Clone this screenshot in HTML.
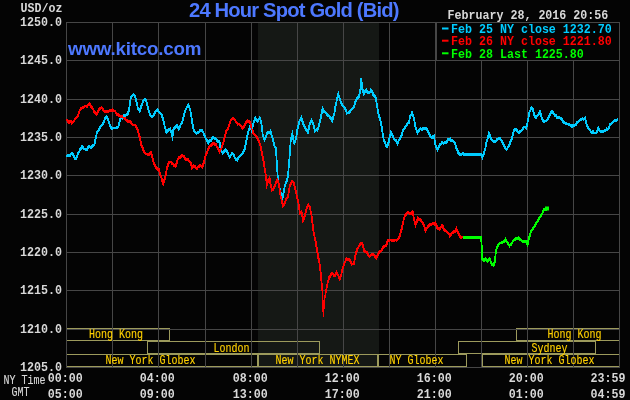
<!DOCTYPE html>
<html lang="en"><head><meta charset="utf-8"><title>24 Hour Spot Gold (Bid)</title>
<style>html,body{margin:0;padding:0;background:#040404;overflow:hidden}svg{display:block;will-change:transform}.m{font-family:"Liberation Mono",monospace;font-size:12.6px}.b{font-weight:bold}.n{stroke-width:0.15px;paint-order:stroke}.t{font-family:"Liberation Sans",sans-serif;font-weight:bold;fill:#4d78ff}</style></head><body>
<svg width="630" height="400" viewBox="0 0 630 400">
<rect x="0" y="0" width="630" height="400" fill="#040404"/>
<rect x="258" y="22" width="121" height="345" fill="#151815"/>
<g fill="none" stroke="#9c9a5c" stroke-width="1" shape-rendering="crispEdges">
<rect x="66.5" y="328.5" width="103" height="12"/>
<rect x="516.5" y="328.5" width="103" height="12"/>
<rect x="147.5" y="341.5" width="172" height="12"/>
<rect x="458.5" y="341.5" width="137" height="12"/>
<rect x="66.5" y="354.5" width="191" height="12"/>
<rect x="258.5" y="354.5" width="119" height="12"/>
<rect x="378.5" y="354.5" width="88" height="12"/>
<rect x="482.5" y="354.5" width="137" height="12"/>
</g>
<g fill="#464646" shape-rendering="crispEdges">
<rect x="66" y="22" width="1" height="346"/>
<rect x="112" y="22" width="1" height="346"/>
<rect x="158" y="22" width="1" height="346"/>
<rect x="205" y="22" width="1" height="346"/>
<rect x="251" y="22" width="1" height="346"/>
<rect x="297" y="22" width="1" height="346"/>
<rect x="343" y="22" width="1" height="346"/>
<rect x="389" y="22" width="1" height="346"/>
<rect x="435" y="22" width="1" height="346"/>
<rect x="481" y="22" width="1" height="346"/>
<rect x="527" y="22" width="1" height="346"/>
<rect x="573" y="22" width="1" height="346"/>
<rect x="619" y="22" width="1" height="346"/>
<rect x="66" y="22" width="554" height="1"/>
<rect x="66" y="60" width="554" height="1"/>
<rect x="66" y="99" width="554" height="1"/>
<rect x="66" y="137" width="554" height="1"/>
<rect x="66" y="175" width="554" height="1"/>
<rect x="66" y="214" width="554" height="1"/>
<rect x="66" y="252" width="554" height="1"/>
<rect x="66" y="290" width="554" height="1"/>
<rect x="66" y="329" width="554" height="1"/>
<rect x="66" y="367" width="554" height="1"/>
</g>
<rect x="436.5" y="22.5" width="183" height="38" fill="#040404" stroke="#464646" stroke-width="1" shape-rendering="crispEdges"/>
<g fill="none" stroke-width="1.7" stroke-linejoin="miter" stroke-miterlimit="6" stroke-linecap="butt" shape-rendering="crispEdges" transform="translate(0,-0.5)">
<polyline stroke="#00ccff" points="66.6,156.3 67.8,155.0 69.0,155.8 70.0,155.5 71.0,154.0 72.4,153.2 73.7,155.7 75.0,158.6 76.0,158.5 77.0,156.7 78.0,153.4 79.0,152.3 80.0,149.3 81.0,148.8 82.0,146.4 83.0,147.5 84.0,149.0 85.0,148.8 86.0,149.8 87.0,149.8 88.0,147.7 89.0,146.6 90.0,147.0 91.0,147.6 92.0,146.3 93.2,145.2 94.4,144.9 95.7,138.2 97.0,132.3 98.0,131.2 99.0,129.8 100.0,127.7 101.0,126.2 102.0,124.8 103.0,123.9 104.1,121.0 105.3,117.7 106.4,116.6 108.0,119.5 109.0,122.9 110.0,125.3 111.0,127.7 112.1,129.0 113.1,127.8 114.1,128.1 115.2,128.2 116.2,127.8 117.2,128.0 118.2,126.7 119.3,123.2 120.7,117.5 122.4,118.1 123.7,115.4 124.8,115.7 125.8,115.4 127.6,114.3 129.0,110.3 130.1,102.3 130.9,97.4 132.3,95.5 133.6,94.5 135.0,96.3 136.4,101.7 137.8,107.7 139.6,111.2 140.9,107.2 142.7,102.3 143.6,100.7 144.6,99.6 146.0,99.9 147.1,104.4 148.5,109.9 150.1,114.5 151.5,117.0 152.4,116.6 153.3,115.9 154.4,114.1 155.4,112.1 156.6,110.3 157.8,109.8 158.8,112.0 159.8,113.0 160.9,113.9 162.0,115.8 163.3,120.0 164.7,126.4 166.4,132.2 167.4,131.1 168.4,130.1 170.1,128.8 171.4,132.6 172.5,137.2 173.5,128.6 174.4,128.3 175.3,127.3 177.1,125.6 178.7,128.8 179.8,126.8 180.8,124.2 182.2,122.7 183.5,117.5 184.9,111.1 186.3,108.5 188.1,104.8 189.2,107.0 190.4,110.4 192.0,121.2 192.9,125.9 193.9,130.6 195.1,132.0 196.3,133.3 197.6,132.9 198.9,132.1 199.9,130.4 200.9,129.8 202.2,130.8 203.5,132.9 204.7,136.2 205.9,138.8 207.1,140.8 208.3,142.8 209.6,140.7 210.9,140.5 212.5,137.5 213.7,137.7 214.9,138.6 216.2,139.3 217.5,141.8 218.5,141.8 219.5,141.8 220.8,149.5 221.8,151.7 222.8,153.4 224.1,151.2 225.4,149.9 226.6,151.0 227.8,152.7 228.8,155.6 229.8,157.4 231.0,155.1 232.2,153.3 233.5,154.8 234.8,157.7 236.1,159.4 237.4,160.5 238.6,157.3 239.8,155.9 241.0,155.1 242.2,153.9 243.4,151.6 244.7,149.3 245.7,143.9 246.7,139.5 247.7,134.2 248.7,130.1 250.1,126.5 251.7,130.3 253.3,123.7 254.3,121.1 255.3,117.9 256.5,120.2 257.7,121.3 258.7,119.7 259.7,117.9 261.3,122.5 262.7,134.8 263.7,137.5 264.7,139.5 265.7,137.6 266.7,134.1 267.6,132.8 268.6,132.8 269.6,132.6 270.6,131.0 271.6,135.2 272.6,137.8 273.6,142.7 274.6,146.5 276.0,148.7 276.9,164.8 277.9,178.9 278.9,185.5 279.9,189.2 281.1,194.5 282.3,199.3 283.9,190.6 284.9,185.6 285.9,182.7 286.9,180.4 287.9,177.0 288.9,164.6 289.9,152.9 290.6,141.4 292.3,134.1 293.3,139.0 294.3,142.7 295.9,139.2 297.5,128.8 298.5,125.4 299.5,120.4 300.5,119.2 301.5,117.5 302.5,121.6 303.5,125.0 304.5,126.3 305.5,129.0 306.7,130.2 307.9,132.7 309.5,124.8 310.5,122.7 311.5,120.8 312.5,122.9 313.5,124.7 314.9,131.1 316.2,129.8 317.5,130.4 318.5,126.9 319.5,123.2 320.9,117.0 322.5,108.8 323.7,111.4 324.9,112.2 326.2,112.9 327.5,115.4 328.7,115.5 329.9,117.3 331.1,118.7 332.3,120.7 333.3,116.9 334.3,113.6 335.3,107.3 336.3,102.5 337.3,97.8 338.3,94.1 339.9,99.1 341.5,103.5 342.7,105.9 343.9,107.1 344.9,108.3 345.9,109.9 346.9,113.2 348.2,112.9 349.5,112.5 350.7,110.2 351.9,109.2 353.1,108.1 354.3,105.8 355.9,100.0 356.9,98.7 357.9,97.5 358.9,97.0 360.3,90.4 361.3,78.3 362.3,88.9 363.9,94.2 365.1,91.3 366.3,89.9 367.6,92.4 368.9,92.8 369.9,92.3 370.9,90.0 372.2,91.8 373.5,95.4 374.7,96.1 375.9,98.1 377.5,108.7 378.9,116.0 379.9,118.6 380.9,122.0 382.3,131.0 383.9,141.1 384.9,142.1 385.9,145.4 386.9,146.8 387.9,144.3 388.9,141.1 389.9,136.4 390.9,132.4 391.9,134.7 392.9,135.9 393.9,138.9 394.9,139.9 396.2,140.4 397.5,143.4 398.7,140.6 399.9,139.0 400.9,136.8 401.9,134.5 403.1,130.3 404.3,128.4 405.6,126.6 406.9,124.4 407.9,122.9 408.9,122.7 410.2,115.9 411.1,115.0 412.0,112.5 413.0,115.3 413.9,118.1 415.5,127.0 416.5,130.2 417.5,132.8 418.7,131.0 419.9,129.1 420.9,128.7 421.9,129.7 422.9,128.4 423.9,128.3 424.9,128.1 425.9,128.4 426.9,129.4 427.9,130.9 428.9,133.2 429.9,135.6 430.9,137.2 431.9,138.1 432.9,136.6 433.9,135.8 435.5,144.9 436.5,147.3 437.5,149.5 438.7,147.1 439.9,144.7 441.1,143.7 442.3,142.1 443.4,143.2 444.4,142.7 445.5,142.7 446.7,141.9 447.9,139.5 449.1,139.8 450.3,138.8 451.3,140.7 452.3,140.6 453.3,141.4 454.3,142.6 455.3,144.2 456.3,148.6 457.3,149.7 458.3,152.8 459.6,154.3 460.9,154.9 461.9,153.9 462.9,153.2 463.9,153.9 464.8,154.2 465.8,154.2 466.7,154.2 467.7,154.2 468.6,154.2 469.6,154.2 470.5,154.2 471.5,154.2 472.4,154.2 473.3,154.2 474.3,154.2 475.2,154.2 476.2,154.2 477.1,154.2 478.1,154.2 479.0,154.2 480.0,154.2 480.9,154.2 482.3,157.5 483.9,153.6 485.5,147.7 486.5,142.0 487.5,138.8 488.9,133.4 489.9,135.5 490.9,138.7 492.2,140.2 493.5,141.8 494.4,141.6 495.4,141.2 496.3,140.8 497.6,138.9 498.9,138.4 499.9,138.5 500.9,140.2 501.9,141.1 502.9,142.9 503.9,144.9 504.9,147.5 505.9,148.8 506.9,149.3 508.1,146.9 509.2,145.3 510.4,142.0 511.7,138.9 512.8,134.9 513.9,130.8 515.1,129.4 516.3,129.8 517.6,131.2 518.9,133.0 520.2,131.3 521.5,130.9 522.7,128.9 523.9,127.1 525.1,127.0 526.3,127.9 527.9,120.8 529.5,111.7 530.5,110.1 531.5,107.4 532.9,108.7 533.9,114.5 534.9,116.1 535.9,117.8 536.9,116.2 537.9,115.3 538.9,114.0 539.9,111.6 541.5,116.8 542.5,119.5 543.5,121.7 544.7,121.2 545.9,120.9 547.1,119.8 548.3,118.1 549.4,115.3 550.4,114.1 551.5,111.4 552.7,112.1 553.9,113.9 554.9,115.8 555.9,115.5 556.9,117.3 557.9,118.0 558.9,117.1 559.9,117.7 560.9,118.4 562.2,119.7 563.5,122.3 564.4,122.9 565.4,123.0 566.3,123.8 567.6,124.1 568.9,124.3 569.9,125.1 570.9,125.5 571.9,126.8 573.1,125.6 574.3,125.4 575.6,125.0 576.9,122.7 578.2,121.8 579.5,120.4 580.4,119.6 581.4,119.6 582.3,118.8 583.6,119.4 584.9,118.0 586.3,123.6 587.3,126.3 588.3,128.5 589.6,129.1 590.9,131.7 591.9,132.6 592.9,131.5 593.9,132.8 595.1,133.2 596.3,133.0 597.3,130.8 598.3,128.0 599.3,130.0 600.3,131.6 601.6,131.1 602.9,132.2 603.9,131.4 604.9,130.4 605.9,130.3 606.9,128.9 607.9,129.4 608.9,128.1 609.9,124.5 610.9,124.3 611.9,123.4 612.9,122.0 614.2,121.2 615.5,120.1 616.4,120.8 617.4,119.3 618.3,118.9"/>
<polyline stroke="#ff0000" points="66.6,119.3 67.8,121.3 69.0,122.6 70.0,121.3 71.0,121.3 72.0,123.2 73.0,122.3 74.0,121.1 75.0,119.1 76.0,118.1 77.0,116.9 78.0,115.6 79.0,112.2 80.0,109.9 81.0,108.6 82.0,108.0 83.0,107.5 84.0,107.2 85.0,105.9 86.0,106.2 87.0,106.4 88.3,104.7 89.6,103.5 90.8,106.0 92.0,107.7 93.2,109.3 94.4,112.0 95.5,113.1 96.6,114.5 97.8,111.8 99.0,109.1 100.3,108.5 101.6,107.2 102.8,109.0 104.0,111.2 105.2,111.7 106.4,111.3 107.7,111.7 109.0,111.2 110.1,110.6 111.3,110.5 112.4,109.9 113.7,110.9 115.0,110.9 116.0,113.1 117.0,114.5 118.0,114.0 119.0,115.4 120.0,116.3 121.0,116.4 122.0,116.7 123.0,117.0 124.0,118.2 125.0,118.6 126.0,120.1 127.0,120.3 128.0,121.4 129.0,122.1 130.0,121.6 131.0,122.6 132.0,124.3 133.0,125.1 134.0,125.2 135.0,125.1 136.0,125.7 137.0,129.0 138.0,130.7 139.0,135.4 139.9,137.8 141.5,145.8 142.5,147.4 143.5,150.9 144.7,152.5 145.9,153.8 146.9,154.0 147.9,154.5 148.9,154.8 149.9,153.5 150.8,152.3 151.9,155.8 152.9,159.9 153.9,163.0 154.9,165.2 155.9,167.3 156.9,168.5 157.9,170.0 158.9,169.6 159.9,173.8 160.9,176.1 162.1,180.6 163.3,183.7 164.9,178.1 165.9,174.4 166.9,168.2 167.9,165.3 168.9,162.7 169.9,162.0 170.9,161.9 171.9,163.5 172.9,163.9 173.9,165.4 174.9,165.1 175.8,166.3 176.9,162.0 177.9,159.1 179.1,157.1 180.3,157.7 181.6,155.5 182.9,155.7 183.9,156.3 184.9,158.1 185.9,159.7 186.9,159.1 187.9,159.1 188.9,161.1 189.9,161.8 190.9,163.4 191.9,167.6 192.9,166.4 193.9,165.7 194.9,166.2 195.9,167.7 196.9,169.0 197.9,167.2 198.9,166.6 199.9,165.3 201.1,166.2 202.3,167.3 203.3,164.1 204.3,161.1 205.3,157.2 206.3,153.6 207.6,150.9 208.9,147.9 209.9,146.2 210.9,145.9 211.9,144.4 212.9,143.4 213.9,143.6 214.9,144.4 215.9,144.6 216.9,146.7 218.2,148.9 219.5,151.5 220.5,148.8 221.5,148.4 222.7,144.0 223.8,141.0 225.0,136.3 226.2,131.0 227.5,129.4 228.8,126.3 229.8,123.0 230.8,119.9 231.8,119.3 232.8,118.5 233.8,118.8 234.8,119.7 235.8,121.6 236.8,122.6 237.8,124.1 238.8,123.9 239.8,125.1 240.8,125.6 241.7,127.2 242.7,128.4 243.7,126.9 244.7,125.0 246.0,122.3 247.3,120.7 248.2,121.7 249.2,121.4 250.1,121.9 251.7,128.5 252.7,130.5 253.7,134.1 254.9,134.9 256.1,135.9 257.4,138.3 258.7,140.9 259.7,143.3 260.7,146.4 262.1,154.3 263.7,161.8 264.6,168.3 265.5,173.5 266.9,184.7 268.3,180.3 269.5,178.1 270.5,184.2 271.9,190.2 272.9,189.8 273.9,188.2 274.9,185.6 275.9,182.9 277.5,179.4 278.9,184.0 280.3,194.3 281.9,200.8 282.9,205.7 284.3,203.9 285.3,201.6 286.3,198.7 287.3,198.0 288.3,195.1 289.9,185.1 290.9,184.2 291.9,181.3 292.9,181.9 293.9,183.5 295.5,189.6 296.9,196.3 298.3,201.6 299.9,213.1 301.5,211.4 303.0,220.3 303.9,218.5 304.9,215.1 305.8,211.5 306.7,208.0 308.3,204.7 310.0,207.4 311.7,216.8 312.6,223.8 313.5,232.2 314.5,236.4 315.5,240.9 316.9,249.4 318.3,257.7 318.8,259.2 320.0,266.4 321.2,278.2 322.2,290.3"/>
<polyline stroke="#ff0000" stroke-width="1.5" points="322.2,290.5 322.7,299.5 323.1,307.0 323.4,317.2 323.7,310.0 324.2,304.0 324.8,298.0 326.0,292.0"/>
<polyline stroke="#ff0000" points="326.0,291.5 327.5,283.4 329.0,277.7 329.9,276.6 330.8,274.8 331.8,273.7 332.7,273.5 333.6,275.3 334.5,275.9 335.5,274.7 336.5,272.4 337.4,274.2 338.3,275.2 339.8,279.3 341.3,274.5 342.8,268.0 344.3,263.6 345.4,261.2 346.4,258.6 347.4,259.7 348.3,259.5 349.3,259.8 350.3,260.9 351.9,264.2 352.9,264.1 353.9,263.8 355.5,255.3 356.9,250.0 357.9,248.3 358.9,246.1 359.9,244.4 360.9,243.7 361.9,243.5 362.9,245.6 364.3,250.9 365.6,251.8 366.9,252.6 368.2,255.1 369.5,256.2 370.7,255.3 371.9,254.0 372.9,254.3 373.9,254.9 375.1,256.8 376.3,258.3 377.9,255.0 378.9,252.7 379.9,251.3 381.5,251.1 382.5,248.2 383.5,246.8 384.7,246.0 385.9,245.9 386.9,243.4 387.9,240.7 389.5,240.4 390.7,240.0 391.9,240.8 392.9,240.2 393.9,240.9 394.9,240.2 395.9,239.8 396.9,240.3 397.9,239.2 398.9,237.4 399.9,236.1 400.9,231.7 401.9,228.2 403.5,220.4 405.1,215.0 406.4,214.1 407.7,212.3 409.0,213.2 410.3,213.9 411.5,213.4 412.7,211.7 413.9,219.1 415.5,224.9 416.7,221.8 417.9,218.1 418.9,219.9 419.9,219.5 420.9,220.1 421.9,222.2 422.9,223.0 424.2,226.2 425.5,231.0 426.7,228.6 427.9,226.9 428.9,225.5 429.9,224.6 430.9,224.6 432.2,223.6 433.5,223.4 434.5,224.3 435.5,222.9 436.5,225.4 437.5,228.6 438.5,228.3 439.5,229.2 440.7,227.3 441.9,225.5 442.9,226.5 443.9,229.7 444.9,230.4 445.9,231.1 446.9,231.8 447.9,232.6 448.9,233.8 449.9,236.0 451.1,234.2 452.3,232.7 453.3,232.5 454.3,231.3 455.3,231.3 456.3,228.5 457.3,230.9 458.3,233.5 459.3,234.7 460.3,237.5 461.6,237.3 462.9,237.0"/>
<polyline stroke="#00ff00" points="481.0,237.5 481.6,244.5 482.3,258.7 483.9,260.6 484.9,259.7 485.9,258.7 487.5,261.2 488.5,259.2 489.5,258.7 490.5,260.8 491.5,263.3 492.5,265.1 493.5,265.4 494.9,261.4 495.9,251.1 497.5,246.2 498.7,244.0 499.9,243.0 500.9,243.2 501.9,242.5 502.9,242.4 504.2,241.3 505.5,239.4 506.7,241.6 507.9,243.1 509.5,245.7 510.5,244.1 511.5,244.2 512.5,242.0 513.5,240.3 514.7,239.7 515.9,238.6 517.1,238.6 518.3,237.5 519.6,239.2 520.9,240.0 522.1,241.1 523.3,241.7 524.4,241.1 525.6,241.2 526.6,242.2 527.6,244.4 529.0,238.0 530.0,235.1 531.0,231.7 532.3,229.8 533.6,227.7 534.8,225.6 536.0,223.9 537.0,222.0 538.0,220.6 539.0,218.4 540.0,217.1 541.0,215.4 542.0,214.0 543.0,212.0 544.0,209.6 545.1,209.6 546.3,209.2"/>
</g>
<g fill="none" stroke-width="1.7" stroke-linejoin="miter" stroke-miterlimit="6" stroke-linecap="butt" shape-rendering="crispEdges" transform="translate(0,0.5)">
<polyline stroke="#00ccff" points="66.6,156.3 67.8,155.0 69.0,155.8 70.0,155.5 71.0,154.0 72.4,153.2 73.7,155.7 75.0,158.6 76.0,158.5 77.0,156.7 78.0,153.4 79.0,152.3 80.0,149.3 81.0,148.8 82.0,146.4 83.0,147.5 84.0,149.0 85.0,148.8 86.0,149.8 87.0,149.8 88.0,147.7 89.0,146.6 90.0,147.0 91.0,147.6 92.0,146.3 93.2,145.2 94.4,144.9 95.7,138.2 97.0,132.3 98.0,131.2 99.0,129.8 100.0,127.7 101.0,126.2 102.0,124.8 103.0,123.9 104.1,121.0 105.3,117.7 106.4,116.6 108.0,119.5 109.0,122.9 110.0,125.3 111.0,127.7 112.1,129.0 113.1,127.8 114.1,128.1 115.2,128.2 116.2,127.8 117.2,128.0 118.2,126.7 119.3,123.2 120.7,117.5 122.4,118.1 123.7,115.4 124.8,115.7 125.8,115.4 127.6,114.3 129.0,110.3 130.1,102.3 130.9,97.4 132.3,95.5 133.6,94.5 135.0,96.3 136.4,101.7 137.8,107.7 139.6,111.2 140.9,107.2 142.7,102.3 143.6,100.7 144.6,99.6 146.0,99.9 147.1,104.4 148.5,109.9 150.1,114.5 151.5,117.0 152.4,116.6 153.3,115.9 154.4,114.1 155.4,112.1 156.6,110.3 157.8,109.8 158.8,112.0 159.8,113.0 160.9,113.9 162.0,115.8 163.3,120.0 164.7,126.4 166.4,132.2 167.4,131.1 168.4,130.1 170.1,128.8 171.4,132.6 172.5,137.2 173.5,128.6 174.4,128.3 175.3,127.3 177.1,125.6 178.7,128.8 179.8,126.8 180.8,124.2 182.2,122.7 183.5,117.5 184.9,111.1 186.3,108.5 188.1,104.8 189.2,107.0 190.4,110.4 192.0,121.2 192.9,125.9 193.9,130.6 195.1,132.0 196.3,133.3 197.6,132.9 198.9,132.1 199.9,130.4 200.9,129.8 202.2,130.8 203.5,132.9 204.7,136.2 205.9,138.8 207.1,140.8 208.3,142.8 209.6,140.7 210.9,140.5 212.5,137.5 213.7,137.7 214.9,138.6 216.2,139.3 217.5,141.8 218.5,141.8 219.5,141.8 220.8,149.5 221.8,151.7 222.8,153.4 224.1,151.2 225.4,149.9 226.6,151.0 227.8,152.7 228.8,155.6 229.8,157.4 231.0,155.1 232.2,153.3 233.5,154.8 234.8,157.7 236.1,159.4 237.4,160.5 238.6,157.3 239.8,155.9 241.0,155.1 242.2,153.9 243.4,151.6 244.7,149.3 245.7,143.9 246.7,139.5 247.7,134.2 248.7,130.1 250.1,126.5 251.7,130.3 253.3,123.7 254.3,121.1 255.3,117.9 256.5,120.2 257.7,121.3 258.7,119.7 259.7,117.9 261.3,122.5 262.7,134.8 263.7,137.5 264.7,139.5 265.7,137.6 266.7,134.1 267.6,132.8 268.6,132.8 269.6,132.6 270.6,131.0 271.6,135.2 272.6,137.8 273.6,142.7 274.6,146.5 276.0,148.7 276.9,164.8 277.9,178.9 278.9,185.5 279.9,189.2 281.1,194.5 282.3,199.3 283.9,190.6 284.9,185.6 285.9,182.7 286.9,180.4 287.9,177.0 288.9,164.6 289.9,152.9 290.6,141.4 292.3,134.1 293.3,139.0 294.3,142.7 295.9,139.2 297.5,128.8 298.5,125.4 299.5,120.4 300.5,119.2 301.5,117.5 302.5,121.6 303.5,125.0 304.5,126.3 305.5,129.0 306.7,130.2 307.9,132.7 309.5,124.8 310.5,122.7 311.5,120.8 312.5,122.9 313.5,124.7 314.9,131.1 316.2,129.8 317.5,130.4 318.5,126.9 319.5,123.2 320.9,117.0 322.5,108.8 323.7,111.4 324.9,112.2 326.2,112.9 327.5,115.4 328.7,115.5 329.9,117.3 331.1,118.7 332.3,120.7 333.3,116.9 334.3,113.6 335.3,107.3 336.3,102.5 337.3,97.8 338.3,94.1 339.9,99.1 341.5,103.5 342.7,105.9 343.9,107.1 344.9,108.3 345.9,109.9 346.9,113.2 348.2,112.9 349.5,112.5 350.7,110.2 351.9,109.2 353.1,108.1 354.3,105.8 355.9,100.0 356.9,98.7 357.9,97.5 358.9,97.0 360.3,90.4 361.3,78.3 362.3,88.9 363.9,94.2 365.1,91.3 366.3,89.9 367.6,92.4 368.9,92.8 369.9,92.3 370.9,90.0 372.2,91.8 373.5,95.4 374.7,96.1 375.9,98.1 377.5,108.7 378.9,116.0 379.9,118.6 380.9,122.0 382.3,131.0 383.9,141.1 384.9,142.1 385.9,145.4 386.9,146.8 387.9,144.3 388.9,141.1 389.9,136.4 390.9,132.4 391.9,134.7 392.9,135.9 393.9,138.9 394.9,139.9 396.2,140.4 397.5,143.4 398.7,140.6 399.9,139.0 400.9,136.8 401.9,134.5 403.1,130.3 404.3,128.4 405.6,126.6 406.9,124.4 407.9,122.9 408.9,122.7 410.2,115.9 411.1,115.0 412.0,112.5 413.0,115.3 413.9,118.1 415.5,127.0 416.5,130.2 417.5,132.8 418.7,131.0 419.9,129.1 420.9,128.7 421.9,129.7 422.9,128.4 423.9,128.3 424.9,128.1 425.9,128.4 426.9,129.4 427.9,130.9 428.9,133.2 429.9,135.6 430.9,137.2 431.9,138.1 432.9,136.6 433.9,135.8 435.5,144.9 436.5,147.3 437.5,149.5 438.7,147.1 439.9,144.7 441.1,143.7 442.3,142.1 443.4,143.2 444.4,142.7 445.5,142.7 446.7,141.9 447.9,139.5 449.1,139.8 450.3,138.8 451.3,140.7 452.3,140.6 453.3,141.4 454.3,142.6 455.3,144.2 456.3,148.6 457.3,149.7 458.3,152.8 459.6,154.3 460.9,154.9 461.9,153.9 462.9,153.2 463.9,153.9 464.8,154.2 465.8,154.2 466.7,154.2 467.7,154.2 468.6,154.2 469.6,154.2 470.5,154.2 471.5,154.2 472.4,154.2 473.3,154.2 474.3,154.2 475.2,154.2 476.2,154.2 477.1,154.2 478.1,154.2 479.0,154.2 480.0,154.2 480.9,154.2 482.3,157.5 483.9,153.6 485.5,147.7 486.5,142.0 487.5,138.8 488.9,133.4 489.9,135.5 490.9,138.7 492.2,140.2 493.5,141.8 494.4,141.6 495.4,141.2 496.3,140.8 497.6,138.9 498.9,138.4 499.9,138.5 500.9,140.2 501.9,141.1 502.9,142.9 503.9,144.9 504.9,147.5 505.9,148.8 506.9,149.3 508.1,146.9 509.2,145.3 510.4,142.0 511.7,138.9 512.8,134.9 513.9,130.8 515.1,129.4 516.3,129.8 517.6,131.2 518.9,133.0 520.2,131.3 521.5,130.9 522.7,128.9 523.9,127.1 525.1,127.0 526.3,127.9 527.9,120.8 529.5,111.7 530.5,110.1 531.5,107.4 532.9,108.7 533.9,114.5 534.9,116.1 535.9,117.8 536.9,116.2 537.9,115.3 538.9,114.0 539.9,111.6 541.5,116.8 542.5,119.5 543.5,121.7 544.7,121.2 545.9,120.9 547.1,119.8 548.3,118.1 549.4,115.3 550.4,114.1 551.5,111.4 552.7,112.1 553.9,113.9 554.9,115.8 555.9,115.5 556.9,117.3 557.9,118.0 558.9,117.1 559.9,117.7 560.9,118.4 562.2,119.7 563.5,122.3 564.4,122.9 565.4,123.0 566.3,123.8 567.6,124.1 568.9,124.3 569.9,125.1 570.9,125.5 571.9,126.8 573.1,125.6 574.3,125.4 575.6,125.0 576.9,122.7 578.2,121.8 579.5,120.4 580.4,119.6 581.4,119.6 582.3,118.8 583.6,119.4 584.9,118.0 586.3,123.6 587.3,126.3 588.3,128.5 589.6,129.1 590.9,131.7 591.9,132.6 592.9,131.5 593.9,132.8 595.1,133.2 596.3,133.0 597.3,130.8 598.3,128.0 599.3,130.0 600.3,131.6 601.6,131.1 602.9,132.2 603.9,131.4 604.9,130.4 605.9,130.3 606.9,128.9 607.9,129.4 608.9,128.1 609.9,124.5 610.9,124.3 611.9,123.4 612.9,122.0 614.2,121.2 615.5,120.1 616.4,120.8 617.4,119.3 618.3,118.9"/>
<polyline stroke="#ff0000" points="66.6,119.3 67.8,121.3 69.0,122.6 70.0,121.3 71.0,121.3 72.0,123.2 73.0,122.3 74.0,121.1 75.0,119.1 76.0,118.1 77.0,116.9 78.0,115.6 79.0,112.2 80.0,109.9 81.0,108.6 82.0,108.0 83.0,107.5 84.0,107.2 85.0,105.9 86.0,106.2 87.0,106.4 88.3,104.7 89.6,103.5 90.8,106.0 92.0,107.7 93.2,109.3 94.4,112.0 95.5,113.1 96.6,114.5 97.8,111.8 99.0,109.1 100.3,108.5 101.6,107.2 102.8,109.0 104.0,111.2 105.2,111.7 106.4,111.3 107.7,111.7 109.0,111.2 110.1,110.6 111.3,110.5 112.4,109.9 113.7,110.9 115.0,110.9 116.0,113.1 117.0,114.5 118.0,114.0 119.0,115.4 120.0,116.3 121.0,116.4 122.0,116.7 123.0,117.0 124.0,118.2 125.0,118.6 126.0,120.1 127.0,120.3 128.0,121.4 129.0,122.1 130.0,121.6 131.0,122.6 132.0,124.3 133.0,125.1 134.0,125.2 135.0,125.1 136.0,125.7 137.0,129.0 138.0,130.7 139.0,135.4 139.9,137.8 141.5,145.8 142.5,147.4 143.5,150.9 144.7,152.5 145.9,153.8 146.9,154.0 147.9,154.5 148.9,154.8 149.9,153.5 150.8,152.3 151.9,155.8 152.9,159.9 153.9,163.0 154.9,165.2 155.9,167.3 156.9,168.5 157.9,170.0 158.9,169.6 159.9,173.8 160.9,176.1 162.1,180.6 163.3,183.7 164.9,178.1 165.9,174.4 166.9,168.2 167.9,165.3 168.9,162.7 169.9,162.0 170.9,161.9 171.9,163.5 172.9,163.9 173.9,165.4 174.9,165.1 175.8,166.3 176.9,162.0 177.9,159.1 179.1,157.1 180.3,157.7 181.6,155.5 182.9,155.7 183.9,156.3 184.9,158.1 185.9,159.7 186.9,159.1 187.9,159.1 188.9,161.1 189.9,161.8 190.9,163.4 191.9,167.6 192.9,166.4 193.9,165.7 194.9,166.2 195.9,167.7 196.9,169.0 197.9,167.2 198.9,166.6 199.9,165.3 201.1,166.2 202.3,167.3 203.3,164.1 204.3,161.1 205.3,157.2 206.3,153.6 207.6,150.9 208.9,147.9 209.9,146.2 210.9,145.9 211.9,144.4 212.9,143.4 213.9,143.6 214.9,144.4 215.9,144.6 216.9,146.7 218.2,148.9 219.5,151.5 220.5,148.8 221.5,148.4 222.7,144.0 223.8,141.0 225.0,136.3 226.2,131.0 227.5,129.4 228.8,126.3 229.8,123.0 230.8,119.9 231.8,119.3 232.8,118.5 233.8,118.8 234.8,119.7 235.8,121.6 236.8,122.6 237.8,124.1 238.8,123.9 239.8,125.1 240.8,125.6 241.7,127.2 242.7,128.4 243.7,126.9 244.7,125.0 246.0,122.3 247.3,120.7 248.2,121.7 249.2,121.4 250.1,121.9 251.7,128.5 252.7,130.5 253.7,134.1 254.9,134.9 256.1,135.9 257.4,138.3 258.7,140.9 259.7,143.3 260.7,146.4 262.1,154.3 263.7,161.8 264.6,168.3 265.5,173.5 266.9,184.7 268.3,180.3 269.5,178.1 270.5,184.2 271.9,190.2 272.9,189.8 273.9,188.2 274.9,185.6 275.9,182.9 277.5,179.4 278.9,184.0 280.3,194.3 281.9,200.8 282.9,205.7 284.3,203.9 285.3,201.6 286.3,198.7 287.3,198.0 288.3,195.1 289.9,185.1 290.9,184.2 291.9,181.3 292.9,181.9 293.9,183.5 295.5,189.6 296.9,196.3 298.3,201.6 299.9,213.1 301.5,211.4 303.0,220.3 303.9,218.5 304.9,215.1 305.8,211.5 306.7,208.0 308.3,204.7 310.0,207.4 311.7,216.8 312.6,223.8 313.5,232.2 314.5,236.4 315.5,240.9 316.9,249.4 318.3,257.7 318.8,259.2 320.0,266.4 321.2,278.2 322.2,290.3"/>
<polyline stroke="#ff0000" points="326.0,291.5 327.5,283.4 329.0,277.7 329.9,276.6 330.8,274.8 331.8,273.7 332.7,273.5 333.6,275.3 334.5,275.9 335.5,274.7 336.5,272.4 337.4,274.2 338.3,275.2 339.8,279.3 341.3,274.5 342.8,268.0 344.3,263.6 345.4,261.2 346.4,258.6 347.4,259.7 348.3,259.5 349.3,259.8 350.3,260.9 351.9,264.2 352.9,264.1 353.9,263.8 355.5,255.3 356.9,250.0 357.9,248.3 358.9,246.1 359.9,244.4 360.9,243.7 361.9,243.5 362.9,245.6 364.3,250.9 365.6,251.8 366.9,252.6 368.2,255.1 369.5,256.2 370.7,255.3 371.9,254.0 372.9,254.3 373.9,254.9 375.1,256.8 376.3,258.3 377.9,255.0 378.9,252.7 379.9,251.3 381.5,251.1 382.5,248.2 383.5,246.8 384.7,246.0 385.9,245.9 386.9,243.4 387.9,240.7 389.5,240.4 390.7,240.0 391.9,240.8 392.9,240.2 393.9,240.9 394.9,240.2 395.9,239.8 396.9,240.3 397.9,239.2 398.9,237.4 399.9,236.1 400.9,231.7 401.9,228.2 403.5,220.4 405.1,215.0 406.4,214.1 407.7,212.3 409.0,213.2 410.3,213.9 411.5,213.4 412.7,211.7 413.9,219.1 415.5,224.9 416.7,221.8 417.9,218.1 418.9,219.9 419.9,219.5 420.9,220.1 421.9,222.2 422.9,223.0 424.2,226.2 425.5,231.0 426.7,228.6 427.9,226.9 428.9,225.5 429.9,224.6 430.9,224.6 432.2,223.6 433.5,223.4 434.5,224.3 435.5,222.9 436.5,225.4 437.5,228.6 438.5,228.3 439.5,229.2 440.7,227.3 441.9,225.5 442.9,226.5 443.9,229.7 444.9,230.4 445.9,231.1 446.9,231.8 447.9,232.6 448.9,233.8 449.9,236.0 451.1,234.2 452.3,232.7 453.3,232.5 454.3,231.3 455.3,231.3 456.3,228.5 457.3,230.9 458.3,233.5 459.3,234.7 460.3,237.5 461.6,237.3 462.9,237.0"/>
<polyline stroke="#00ff00" points="481.0,237.5 481.6,244.5 482.3,258.7 483.9,260.6 484.9,259.7 485.9,258.7 487.5,261.2 488.5,259.2 489.5,258.7 490.5,260.8 491.5,263.3 492.5,265.1 493.5,265.4 494.9,261.4 495.9,251.1 497.5,246.2 498.7,244.0 499.9,243.0 500.9,243.2 501.9,242.5 502.9,242.4 504.2,241.3 505.5,239.4 506.7,241.6 507.9,243.1 509.5,245.7 510.5,244.1 511.5,244.2 512.5,242.0 513.5,240.3 514.7,239.7 515.9,238.6 517.1,238.6 518.3,237.5 519.6,239.2 520.9,240.0 522.1,241.1 523.3,241.7 524.4,241.1 525.6,241.2 526.6,242.2 527.6,244.4 529.0,238.0 530.0,235.1 531.0,231.7 532.3,229.8 533.6,227.7 534.8,225.6 536.0,223.9 537.0,222.0 538.0,220.6 539.0,218.4 540.0,217.1 541.0,215.4 542.0,214.0 543.0,212.0 544.0,209.6 545.1,209.6 546.3,209.2"/>
</g>
<rect x="463" y="236" width="19" height="3" fill="#00ff00"/>
<rect x="463" y="153" width="19" height="3" fill="#00ccff"/>
<rect x="545" y="206.5" width="4" height="4" fill="#00ff00"/>
<text class="t" x="189" y="17" font-size="20.2" textLength="210.5" lengthAdjust="spacing">24 Hour Spot Gold (Bid)</text>
<text class="t" x="68" y="54.7" font-size="18.8" textLength="133.5" lengthAdjust="spacing">www.kitco.com</text>
<text class="m b" fill="#d8d8d8" stroke="none" transform="translate(20.5,12) scale(0.9259,1)" xml:space="preserve">USD/oz</text>
<text class="m b" fill="#d8d8d8" stroke="none" transform="translate(20,26) scale(0.9259,1)" xml:space="preserve">1250.0</text>
<text class="m b" fill="#d8d8d8" stroke="none" transform="translate(20,64) scale(0.9259,1)" xml:space="preserve">1245.0</text>
<text class="m b" fill="#d8d8d8" stroke="none" transform="translate(20,103) scale(0.9259,1)" xml:space="preserve">1240.0</text>
<text class="m b" fill="#d8d8d8" stroke="none" transform="translate(20,141) scale(0.9259,1)" xml:space="preserve">1235.0</text>
<text class="m b" fill="#d8d8d8" stroke="none" transform="translate(20,179) scale(0.9259,1)" xml:space="preserve">1230.0</text>
<text class="m b" fill="#d8d8d8" stroke="none" transform="translate(20,218) scale(0.9259,1)" xml:space="preserve">1225.0</text>
<text class="m b" fill="#d8d8d8" stroke="none" transform="translate(20,256) scale(0.9259,1)" xml:space="preserve">1220.0</text>
<text class="m b" fill="#d8d8d8" stroke="none" transform="translate(20,294) scale(0.9259,1)" xml:space="preserve">1215.0</text>
<text class="m b" fill="#d8d8d8" stroke="none" transform="translate(20,333) scale(0.9259,1)" xml:space="preserve">1210.0</text>
<text class="m b" fill="#d8d8d8" stroke="none" transform="translate(20,371) scale(0.9259,1)" xml:space="preserve">1205.0</text>
<text class="m b" fill="#d8d8d8" stroke="none" transform="translate(47.8,382) scale(0.9259,1)" xml:space="preserve">00:00</text>
<text class="m b" fill="#d8d8d8" stroke="none" transform="translate(47.8,398) scale(0.9259,1)" xml:space="preserve">05:00</text>
<text class="m b" fill="#d8d8d8" stroke="none" transform="translate(139.8,382) scale(0.9259,1)" xml:space="preserve">04:00</text>
<text class="m b" fill="#d8d8d8" stroke="none" transform="translate(139.8,398) scale(0.9259,1)" xml:space="preserve">09:00</text>
<text class="m b" fill="#d8d8d8" stroke="none" transform="translate(232.8,382) scale(0.9259,1)" xml:space="preserve">08:00</text>
<text class="m b" fill="#d8d8d8" stroke="none" transform="translate(232.8,398) scale(0.9259,1)" xml:space="preserve">13:00</text>
<text class="m b" fill="#d8d8d8" stroke="none" transform="translate(324.8,382) scale(0.9259,1)" xml:space="preserve">12:00</text>
<text class="m b" fill="#d8d8d8" stroke="none" transform="translate(324.8,398) scale(0.9259,1)" xml:space="preserve">17:00</text>
<text class="m b" fill="#d8d8d8" stroke="none" transform="translate(416.8,382) scale(0.9259,1)" xml:space="preserve">16:00</text>
<text class="m b" fill="#d8d8d8" stroke="none" transform="translate(416.8,398) scale(0.9259,1)" xml:space="preserve">21:00</text>
<text class="m b" fill="#d8d8d8" stroke="none" transform="translate(508.8,382) scale(0.9259,1)" xml:space="preserve">20:00</text>
<text class="m b" fill="#d8d8d8" stroke="none" transform="translate(508.8,398) scale(0.9259,1)" xml:space="preserve">01:00</text>
<text class="m b" fill="#d8d8d8" stroke="none" transform="translate(590.5,382) scale(0.9259,1)" xml:space="preserve">23:59</text>
<text class="m b" fill="#d8d8d8" stroke="none" transform="translate(590.5,398) scale(0.9259,1)" xml:space="preserve">04:59</text>
<text class="m n" fill="#d8d8d8" stroke="#d8d8d8" transform="translate(3.5,384) scale(0.7937,1)" xml:space="preserve">NY Time</text>
<text class="m n" fill="#d8d8d8" stroke="#d8d8d8" transform="translate(11.5,396) scale(0.7937,1)" xml:space="preserve">GMT</text>
<text class="m b" fill="#d8d8d8" stroke="none" transform="translate(447.5,19) scale(0.9259,1)" xml:space="preserve">February 28, 2016 20:56</text>
<rect x="442" y="27.5" width="6.5" height="2" fill="#00ccff"/>
<text class="m b" fill="#00ccff" stroke="none" transform="translate(451,33) scale(0.9259,1)" xml:space="preserve">Feb 25 NY close 1232.70</text>
<rect x="442" y="39.7" width="6.5" height="2" fill="#ff0000"/>
<text class="m b" fill="#ff0000" stroke="none" transform="translate(451,45.2) scale(0.9259,1)" xml:space="preserve">Feb 26 NY close 1221.80</text>
<rect x="442" y="52.3" width="6.5" height="2" fill="#00ff00"/>
<text class="m b" fill="#00ff00" stroke="none" transform="translate(451,57.8) scale(0.9259,1)" xml:space="preserve">Feb 28 Last 1225.80</text>
<text class="m n" fill="#ffd000" stroke="#ffd000" transform="translate(89,338) scale(0.7937,1)" xml:space="preserve">Hong Kong</text>
<text class="m n" fill="#ffd000" stroke="#ffd000" transform="translate(213.5,352) scale(0.7937,1)" xml:space="preserve">London</text>
<text class="m n" fill="#ffd000" stroke="#ffd000" transform="translate(105.5,364) scale(0.7937,1)" xml:space="preserve">New York Globex</text>
<text class="m n" fill="#ffd000" stroke="#ffd000" transform="translate(275.5,364) scale(0.7937,1)" xml:space="preserve">New York NYMEX</text>
<text class="m n" fill="#ffd000" stroke="#ffd000" transform="translate(389.5,364) scale(0.7937,1)" xml:space="preserve">NY Globex</text>
<text class="m n" fill="#ffd000" stroke="#ffd000" transform="translate(547.5,338) scale(0.7937,1)" xml:space="preserve">Hong Kong</text>
<text class="m n" fill="#ffd000" stroke="#ffd000" transform="translate(531.5,352) scale(0.7937,1)" xml:space="preserve">Sydney</text>
<text class="m n" fill="#ffd000" stroke="#ffd000" transform="translate(504.5,364) scale(0.7937,1)" xml:space="preserve">New York Globex</text>
</svg></body></html>
